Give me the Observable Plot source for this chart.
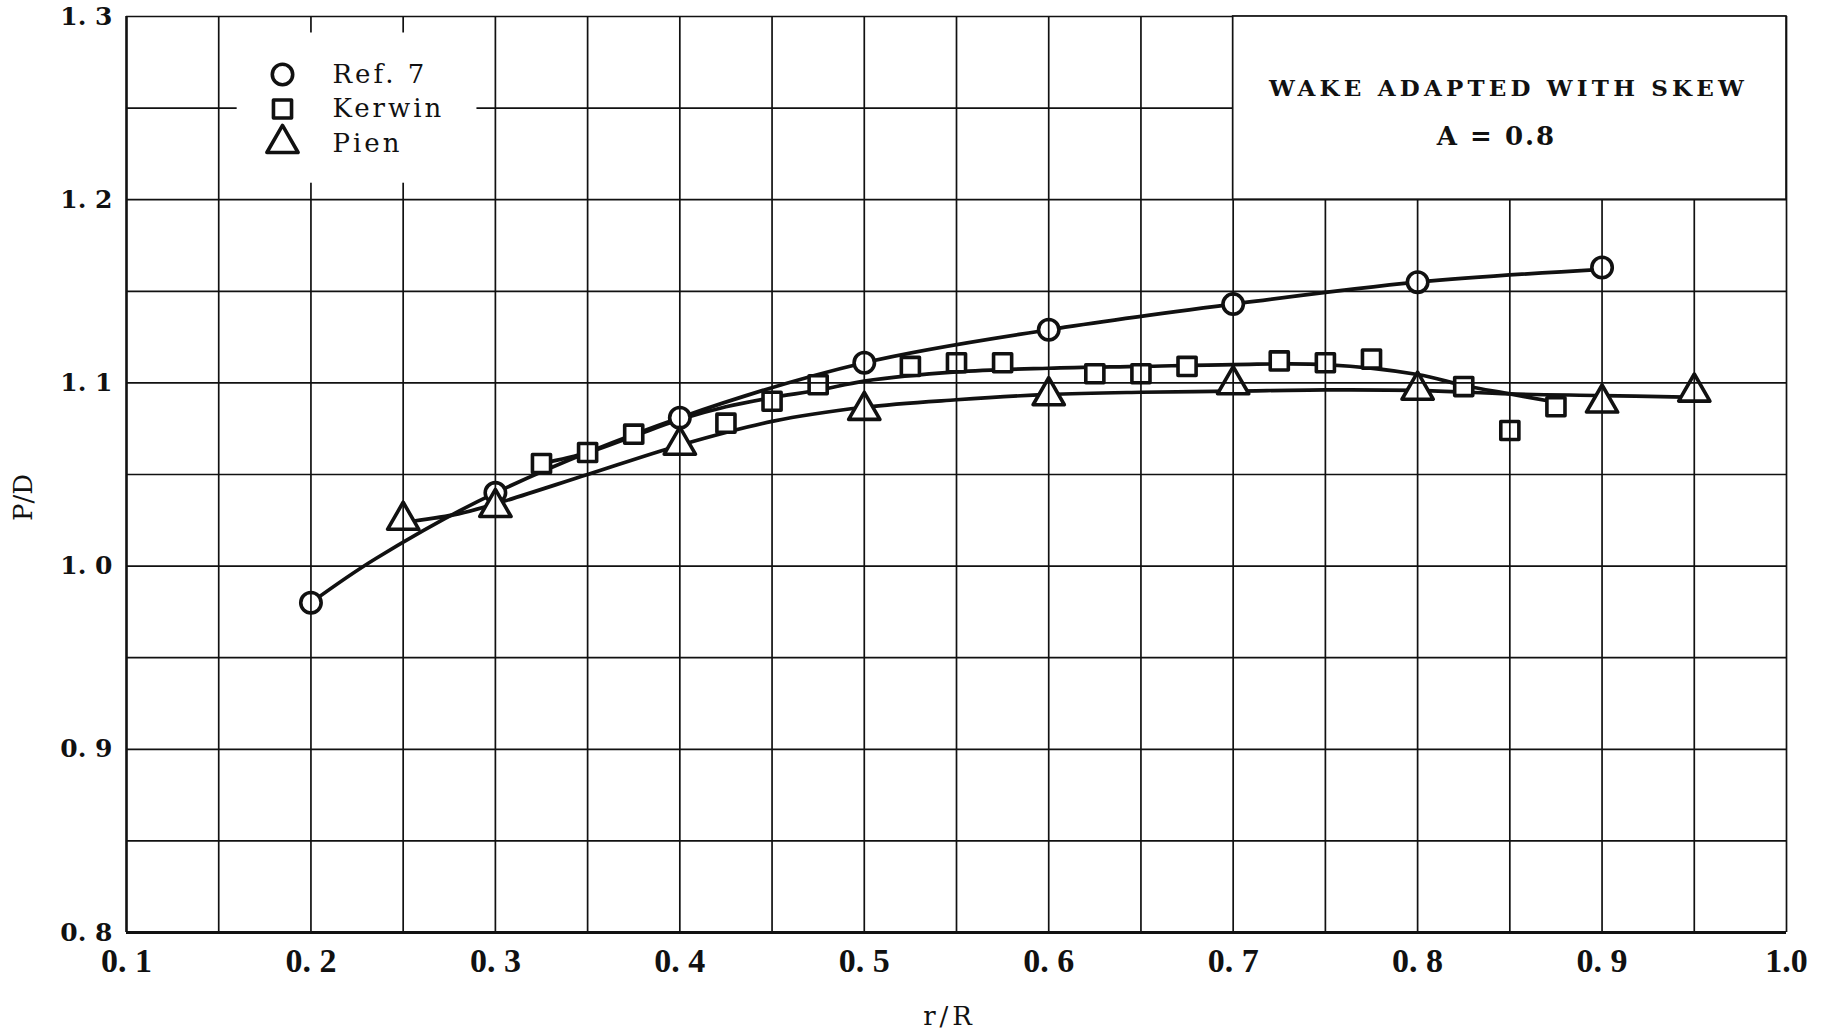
<!DOCTYPE html>
<html>
<head>
<meta charset="utf-8">
<script src="https://cdn.jsdelivr.net/npm/d3@7"></script>
<script src="https://cdn.jsdelivr.net/npm/@observablehq/plot@0.6"></script>
<style>
  html, body { margin: 0; padding: 0; background: #fff; }
  #chart svg { display: block; }
</style>
</head>
<body>
<div id="chart"></div>
<script>
// ---- tick values and labels ----
const xTicks = [0.1, 0.2, 0.3, 0.4, 0.5, 0.6, 0.7, 0.8, 0.9, 1.0];
const xTickLabels = ["0. 1", "0. 2", "0. 3", "0. 4", "0. 5", "0. 6", "0. 7", "0. 8", "0. 9", "1.0"];
const yTicks = [0.8, 0.9, 1.0, 1.1, 1.2, 1.3];
const yTickLabels = ["0. 8", "0. 9", "1. 0", "1. 1", "1. 2", "1. 3"];
const xGrid = [0.1, 0.15, 0.2, 0.25, 0.3, 0.35, 0.4, 0.45, 0.5, 0.55, 0.6, 0.65, 0.7, 0.75, 0.8, 0.85, 0.9, 0.95, 1.0];
const yGrid = [0.8, 0.85, 0.9, 0.95, 1.0, 1.05, 1.1, 1.15, 1.2, 1.25, 1.3];

// ---- series: measured points ----
const seriesNames = ["Ref. 7", "Kerwin", "Pien"];
const ref7X = [0.2, 0.3, 0.4, 0.5, 0.6, 0.7, 0.8, 0.9];
const ref7Y = [0.980, 1.040, 1.081, 1.111, 1.129, 1.143, 1.155, 1.163];
const kerwinX = [0.325, 0.35, 0.375, 0.425, 0.45, 0.475, 0.525, 0.55, 0.575, 0.625, 0.65, 0.675, 0.725, 0.75, 0.775, 0.825, 0.85, 0.875];
const kerwinY = [1.056, 1.062, 1.072, 1.078, 1.090, 1.099, 1.109, 1.111, 1.111, 1.105, 1.105, 1.109, 1.112, 1.111, 1.113, 1.098, 1.074, 1.087];
const pienX = [0.25, 0.3, 0.4, 0.5, 0.6, 0.7, 0.8, 0.9, 0.95];
const pienY = [1.025, 1.032, 1.066, 1.085, 1.093, 1.099, 1.096, 1.089, 1.095];

// ---- faired curves ----
const ref7CurveX = [0.2, 0.235, 0.3, 0.4, 0.5, 0.6, 0.7, 0.8, 0.9];
const ref7CurveY = [0.980, 1.004, 1.040, 1.081, 1.111, 1.129, 1.143, 1.155, 1.162];
const kerwinCurveX = [0.325, 0.35, 0.375, 0.4, 0.425, 0.45, 0.475, 0.5, 0.55, 0.6, 0.65, 0.7, 0.75, 0.8, 0.825, 0.85, 0.872];
const kerwinCurveY = [1.056, 1.062, 1.071, 1.080, 1.087, 1.092, 1.096, 1.101, 1.106, 1.108, 1.109, 1.110, 1.110, 1.1046, 1.0986, 1.094, 1.090];
const pienCurveX = [0.255, 0.28, 0.3, 0.35, 0.4, 0.45, 0.5, 0.55, 0.6, 0.65, 0.7, 0.75, 0.8, 0.85, 0.9, 0.945];
const pienCurveY = [1.0245, 1.0285, 1.034, 1.050, 1.066, 1.079, 1.0867, 1.0908, 1.0937, 1.0949, 1.0955, 1.0962, 1.0959, 1.094, 1.0931, 1.0922];

// ---- boxes (legend area, title box) ----
const legendBox = {x1: 0.16, x2: 0.29, y1: 1.209, y2: 1.291};
const titleBox = {x1: 0.7, x2: 1.0, y1: 1.2, y2: 1.3};
const titleLines = ["WAKE ADAPTED WITH SKEW", "A = 0.8"];

const zip = (xs, ys) => xs.map((x, i) => ({x, y: ys[i]}));
const ref7 = zip(ref7X, ref7Y);
const kerwin = zip(kerwinX, kerwinY);
const pien = zip(pienX, pienY);
const ref7Curve = zip(ref7CurveX, ref7CurveY);
const kerwinCurve = zip(kerwinCurveX, kerwinCurveY);
const pienCurve = zip(pienCurveX, pienCurveY);

const INK = "#111";
const symbols = ["circle", "square", "triangle"];
const radii = [10.2, 10.2, 11.6];

const dotOpts = (i) => ({x: "x", y: "y", symbol: symbols[i], r: radii[i], stroke: INK, strokeWidth: 3.6, fill: "white", strokeLinejoin: "round"});
const lineOpts = {x: "x", y: "y", stroke: INK, strokeWidth: 3.7, curve: "catmull-rom"};

const legendMarks = seriesNames.flatMap((name, i) => [
  Plot.dot([name], {frameAnchor: "top-left", dx: 156, dy: 58 + 34.5 * i, symbol: symbols[i], r: radii[i], stroke: INK, strokeWidth: 3.6, fill: "white", strokeLinejoin: "round"}),
  Plot.text([name], {frameAnchor: "top-left", dx: 206, dy: 58 + 34.5 * i, text: d => d, textAnchor: "start", lineAnchor: "middle", fontFamily: "DejaVu Serif", fontSize: 26, fill: INK})
]);

const chart = Plot.plot({
  width: 1834,
  height: 1036,
  marginLeft: 126,
  marginRight: 48,
  marginTop: 16,
  marginBottom: 104,
  x: {domain: [0.1, 1.0], label: null},
  y: {domain: [0.8, 1.3], label: null},
  style: {background: "white", color: INK},
  marks: [
    // curves and points
    Plot.line(ref7Curve, lineOpts),
    Plot.line(kerwinCurve, lineOpts),
    Plot.line(pienCurve, lineOpts),
    Plot.dot(ref7, dotOpts(0)),
    Plot.dot(kerwin, dotOpts(1)),
    Plot.dot(pien, dotOpts(2)),
    // grid
    Plot.ruleX(xGrid, {stroke: INK, strokeWidth: 1.7}),
    Plot.ruleY(yGrid, {stroke: INK, strokeWidth: 1.7}),
    Plot.ruleX([xGrid[0]], {stroke: INK, strokeWidth: 2.4}),
    Plot.ruleY([yGrid[0]], {stroke: INK, strokeWidth: 2.8}),
    // legend area and title box
    Plot.rect([legendBox], {x1: "x1", x2: "x2", y1: "y1", y2: "y2", fill: "white"}),
    Plot.rect([titleBox], {x1: "x1", x2: "x2", y1: "y1", y2: "y2", fill: "white", stroke: INK, strokeWidth: 1.7}),
    Plot.text([titleLines[0]], {frameAnchor: "top-right", dx: -278, dy: 72, text: d => d, textAnchor: "middle", lineAnchor: "middle", fontFamily: "DejaVu Serif", fontWeight: "bold", fontSize: 23, fill: INK}),
    Plot.text([titleLines[1]], {frameAnchor: "top-right", dx: -290, dy: 120, text: d => d, textAnchor: "middle", lineAnchor: "middle", fontFamily: "DejaVu Serif", fontWeight: "bold", fontSize: 26, fill: INK}),
    ...legendMarks,
    // axes
    Plot.axisX({ticks: xTicks, tickSize: 0, tickPadding: 15, tickFormat: d => xTickLabels[xTicks.indexOf(d)], fontFamily: "Liberation Serif", fontWeight: "bold", fontSize: 34, fill: INK, label: null}),
    Plot.axisY({ticks: yTicks, tickSize: 0, tickPadding: 14, tickFormat: d => yTickLabels[yTicks.indexOf(d)], fontFamily: "DejaVu Serif", fontWeight: "bold", fontSize: 25, fill: INK, label: null}),
    Plot.text(["r/R"], {frameAnchor: "bottom", dx: -7, dy: 92, text: d => d, fontFamily: "DejaVu Serif", fontSize: 26, fill: INK}),
    Plot.text(["P/D"], {frameAnchor: "left", dx: -103, dy: 23, rotate: -90, text: d => d, textAnchor: "middle", lineAnchor: "middle", fontFamily: "DejaVu Serif", fontSize: 26, fill: INK})
  ]
});

// letter spacing for the typeset labels
const spacing = {"WAKE ADAPTED WITH SKEW": 4.2, "A = 0.8": 2, "Ref. 7": 3, "Kerwin": 3, "Pien": 3, "r/R": 4};
d3.select(chart).selectAll("text").each(function () {
  const s = spacing[this.textContent];
  if (s !== undefined) this.style.letterSpacing = s + "px";
});
document.getElementById("chart").appendChild(chart);
</script>
</body>
</html>
